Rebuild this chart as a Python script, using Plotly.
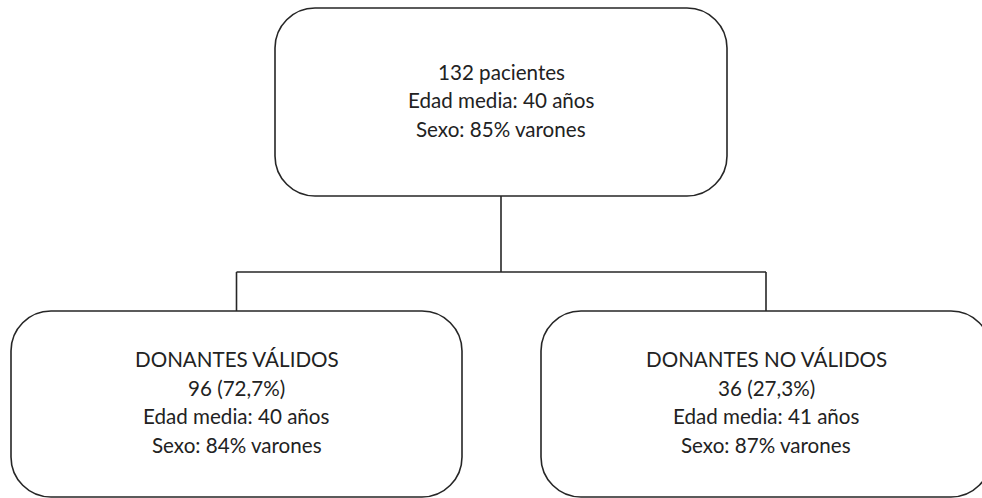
import plotly.graph_objects as go

# ---- content ----
top_lines = ["132 pacientes", "Edad media: 40 años", "Sexo: 85% varones"]
left_lines = ["DONANTES VÁLIDOS", "96 (72,7%)", "Edad media: 40 años", "Sexo: 84% varones"]
right_lines = ["DONANTES NO VÁLIDOS", "36 (27,3%)", "Edad media: 41 años", "Sexo: 87% varones"]

# ---- layout geometry (pixels, y down) ----
W, H = 982, 498
boxes = [
    dict(x0=275, x1=727, y0=8, y1=196, lines=top_lines, ty=[72, 100, 129]),
    dict(x0=11, x1=462, y0=311, y1=497, lines=left_lines, ty=[359, 388, 416, 445]),
    dict(x0=541, x1=991, y0=311, y1=497, lines=right_lines, ty=[359, 388, 416, 445]),
]
R = 40
LINE = dict(color="#262626", width=1.6)


def rounded(x0, y0, x1, y1, r):
    k = 0.5523 * r
    return (f"M {x0+r},{y0} L {x1-r},{y0} "
            f"C {x1-r+k},{y0} {x1},{y0+r-k} {x1},{y0+r} "
            f"L {x1},{y1-r} "
            f"C {x1},{y1-r+k} {x1-r+k},{y1} {x1-r},{y1} "
            f"L {x0+r},{y1} "
            f"C {x0+r-k},{y1} {x0},{y1-r+k} {x0},{y1-r} "
            f"L {x0},{y0+r} "
            f"C {x0},{y0+r-k} {x0+r-k},{y0} {x0+r},{y0} Z")


fig = go.Figure()
shapes = []
annotations = []
for b in boxes:
    shapes.append(dict(type="path", path=rounded(b["x0"], b["y0"], b["x1"], b["y1"], R),
                       line=LINE, fillcolor="white", xref="x", yref="y"))
    cx = (b["x0"] + b["x1"]) / 2
    for txt, y in zip(b["lines"], b["ty"]):
        annotations.append(dict(x=cx, y=y, text=txt, showarrow=False, xref="x", yref="y",
                                xanchor="center", yanchor="middle",
                                font=dict(family="Lato", size=20.6, color="#222222")))

# connectors
mid_top = (boxes[0]["x0"] + boxes[0]["x1"]) / 2
cl = (boxes[1]["x0"] + boxes[1]["x1"]) / 2
cr = (boxes[2]["x0"] + boxes[2]["x1"]) / 2
yh = 272
for (xa, ya, xb, yb) in [
    (mid_top, boxes[0]["y1"], mid_top, yh),
    (cl, yh, cr, yh),
    (cl, yh, cl, boxes[1]["y0"]),
    (cr, yh, cr, boxes[2]["y0"]),
]:
    shapes.append(dict(type="line", x0=xa, y0=ya, x1=xb, y1=yb, line=LINE, xref="x", yref="y"))

fig.update_layout(
    width=W, height=H,
    margin=dict(l=0, r=0, t=0, b=0),
    paper_bgcolor="white", plot_bgcolor="white",
    shapes=shapes, annotations=annotations,
    xaxis=dict(range=[0, W], visible=False, fixedrange=True),
    yaxis=dict(range=[H, 0], visible=False, fixedrange=True),
    showlegend=False,
)
fig.write_html("out.html", config=dict(displayModeBar=False),
               post_script="document.body.style.margin='0px';document.body.style.overflow='hidden';")
